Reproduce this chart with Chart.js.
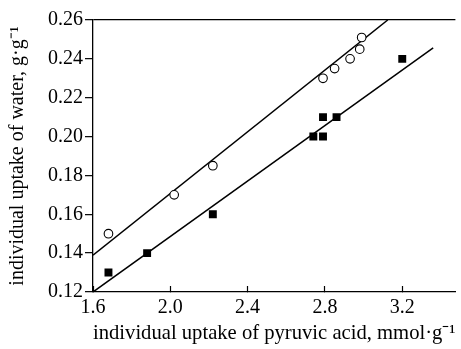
<!DOCTYPE html>
<html>
<head>
<meta charset="utf-8">
<script src="https://cdn.jsdelivr.net/npm/chart.js@4.4.0/dist/chart.umd.min.js"></script>
<style>
  html, body { margin: 0; padding: 0; background: #fff; }
  #wrap { width: 461px; height: 349px; }
</style>
</head>
<body>
<div id="wrap"><canvas id="uptake"></canvas></div>
<script>
// open circles
var circleX = [1.68, 2.02, 2.22, 2.79, 2.85, 2.93, 2.98, 2.99];
var circleY = [0.150, 0.170, 0.185, 0.230, 0.235, 0.240, 0.245, 0.251];
// filled squares
var squareX = [1.68, 1.88, 2.22, 2.74, 2.79, 2.79, 2.86, 3.20];
var squareY = [0.130, 0.140, 0.160, 0.200, 0.200, 0.210, 0.210, 0.240];
// fitted lines (end points)
var upperFitX = [1.6, 3.125];
var upperFitY = [0.139, 0.26];
var lowerFitX = [1.6, 3.36];
var lowerFitY = [0.12, 0.2457];

var xTicks = [1.6, 2.0, 2.4, 2.8, 3.2];
var yTicks = [0.12, 0.14, 0.16, 0.18, 0.20, 0.22, 0.24, 0.26];

var xTitle = 'individual uptake of pyruvic acid, mmol\u00b7g\u207b\u00b9';
var yTitle = 'individual uptake of water, g\u00b7g\u207b\u00b9';

var toPoints = function(xs, ys){
    return xs.map(function(x, i){ return {x: x, y: ys[i]}; });
};

var serif = '"Liberation Serif", "Times New Roman", serif';

var ctx = document.getElementById("uptake").getContext("2d");
var uptakeChart = new Chart(ctx, {
    type: 'scatter',
    data: {
        datasets: [
            {
                label: 'circles',
                data: toPoints(circleX, circleY),
                pointStyle: 'circle',
                pointRadius: 4.3,
                backgroundColor: '#fff',
                borderColor: '#000',
                borderWidth: 1.1,
                order: 1
            },
            {
                label: 'squares',
                data: toPoints(squareX, squareY),
                pointStyle: 'rect',
                pointRadius: 5.6,
                backgroundColor: '#000',
                borderColor: '#000',
                borderWidth: 0,
                order: 1
            },
            {
                type: 'line',
                label: 'fit circles',
                data: toPoints(upperFitX, upperFitY),
                borderColor: '#000',
                borderWidth: 1.5,
                pointRadius: 0,
                fill: false,
                order: 2
            },
            {
                type: 'line',
                label: 'fit squares',
                data: toPoints(lowerFitX, lowerFitY),
                borderColor: '#000',
                borderWidth: 1.5,
                pointRadius: 0,
                fill: false,
                order: 2
            }
        ]
    },
    options: {
        responsive: true,
        maintainAspectRatio: false,
        animation: false,
        layout: { padding: { top: 20, right: 0, bottom: 0, left: 0 } },
        plugins: {
            legend: { display: false },
            tooltip: { enabled: false }
        },
        scales: {
            x: {
                type: 'linear',
                min: 1.6,
                max: 3.475,
                afterBuildTicks: function(scale){
                    scale.ticks = xTicks.map(function(v){ return {value: v}; });
                },
                afterFit: function(scale){ scale.height = 57; },
                border: { display: true, color: '#000', width: 1.3 },
                grid: {
                    drawOnChartArea: false,
                    drawTicks: true,
                    tickLength: -6,
                    tickColor: '#000',
                    tickWidth: 1.2
                },
                ticks: {
                    padding: 10,
                    color: '#000',
                    font: { family: serif, size: 20 },
                    callback: function(v){ return v.toFixed(1); }
                },
                title: {
                    display: true,
                    text: xTitle,
                    color: '#000',
                    font: { family: serif, size: 21 },
                    padding: { top: 0, bottom: 3 }
                }
            },
            y: {
                type: 'linear',
                min: 0.12,
                max: 0.26,
                afterBuildTicks: function(scale){
                    scale.ticks = yTicks.map(function(v){ return {value: v}; });
                },
                afterFit: function(scale){ scale.width = 93; },
                border: { display: true, color: '#000', width: 1.3 },
                grid: {
                    drawOnChartArea: true,
                    color: function(c){
                        return (c.tick && Math.abs(c.tick.value - 0.26) < 1e-9) ? '#000' : 'rgba(0,0,0,0)';
                    },
                    lineWidth: 1.3,
                    drawTicks: true,
                    tickLength: 8,
                    tickColor: '#000',
                    tickWidth: 1.2
                },
                ticks: {
                    padding: 2,
                    color: '#000',
                    font: { family: serif, size: 20 },
                    callback: function(v){ return v.toFixed(2); }
                },
                title: {
                    display: true,
                    text: yTitle,
                    color: '#000',
                    font: { family: serif, size: 20 },
                    padding: { top: 6, bottom: 0 }
                }
            }
        }
    }
});
</script>
</body>
</html>
